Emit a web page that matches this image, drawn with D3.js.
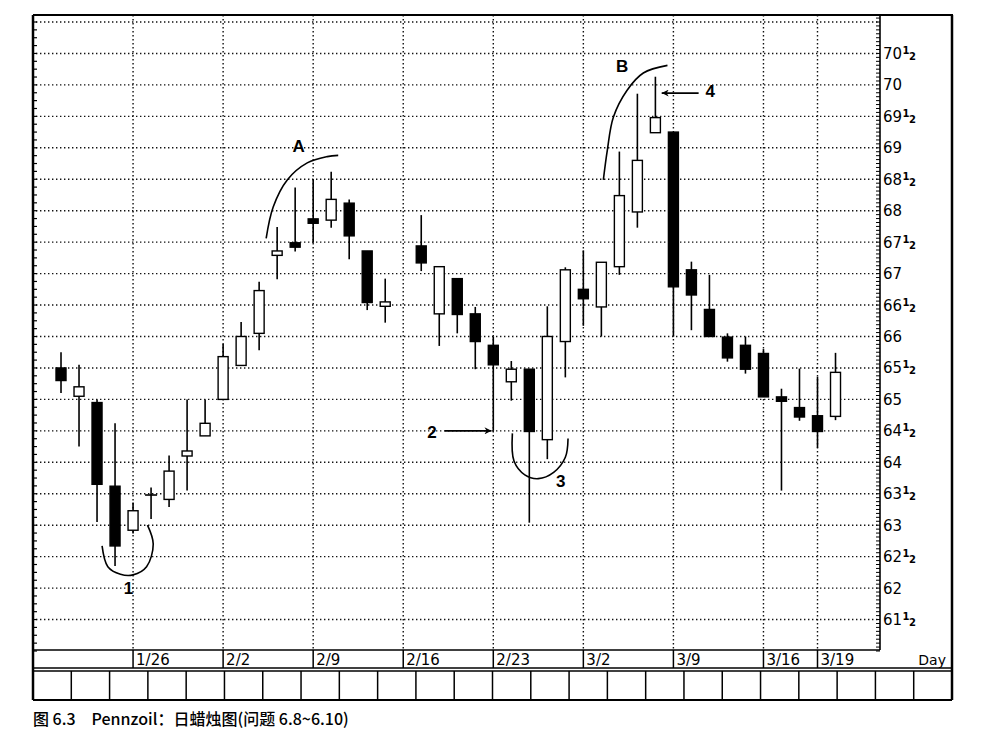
<!DOCTYPE html>
<html><head><meta charset="utf-8">
<script src="https://cdn.jsdelivr.net/npm/d3@7"></script>
<style>body{margin:0;background:#fff}svg{display:block}</style>
</head><body><svg id="c" width="995" height="747"></svg>
<script>
// ---------- data ----------
const dates = ["1998-01-20","1998-01-21","1998-01-22","1998-01-23",
  "1998-01-26","1998-01-27","1998-01-28","1998-01-29","1998-01-30",
  "1998-02-02","1998-02-03","1998-02-04","1998-02-05","1998-02-06",
  "1998-02-09","1998-02-10","1998-02-11","1998-02-12","1998-02-13",
  "1998-02-17","1998-02-18","1998-02-19","1998-02-20",
  "1998-02-23","1998-02-24","1998-02-25","1998-02-26","1998-02-27",
  "1998-03-02","1998-03-03","1998-03-04","1998-03-05","1998-03-06",
  "1998-03-09","1998-03-10","1998-03-11","1998-03-12","1998-03-13",
  "1998-03-16","1998-03-17","1998-03-18","1998-03-19","1998-03-20"];
const open  = [65.5,65.05,64.95,63.62, 62.92,63.48,63.41,64.1,64.42, 65.0,65.54,66.05,67.29,67.49,
  67.87,67.85,68.12,67.36,66.48, 67.44,66.36,66.92,66.36, 65.86,65.28,65.48,64.36,65.92,
  66.75,66.47,67.11,67.98,69.24, 69.25,67.06,66.43,65.99,65.86, 65.73,65.04,64.87,64.74,64.73];
const high  = [65.75,65.55,65.0,64.62, 63.36,63.6,64.11,65.0,65.0, 65.88,66.23,66.87,67.74,68.37,
  68.5,68.62,68.18,67.36,66.92, 67.93,67.11,66.92,66.47, 66.0,65.61,65.48,66.48,67.1,
  67.37,67.18,68.94,69.86,70.13, 69.25,67.19,66.98,66.05,66.0, 65.8,65.17,65.49,65.36,65.74];
const low   = [65.1,64.25,63.05,62.35, 62.87,63.1,63.29,63.55,64.42, 65.0,65.54,65.78,66.91,67.35,
  67.49,67.73,67.23,66.42,66.22, 67.04,65.85,66.05,65.48, 64.5,64.98,63.04,64.05,65.35,
  66.17,66.0,66.98,67.73,69.24, 66.0,66.1,66.0,65.6,65.41, 65.04,63.55,64.66,64.23,64.67];
const close = [65.3,65.2,63.65,62.67, 63.23,63.48,63.86,64.18,64.62, 65.68,66.0,66.73,67.36,67.42,
  67.8,68.18,67.6,66.54,66.55, 67.17,67.11,66.35,65.92, 65.55,65.48,64.49,66.0,67.06,
  66.6,67.18,68.24,68.8,69.48, 66.79,66.66,66.0,65.66,65.48, 65.04,64.97,64.72,64.49,65.43];
const weekTickDates  = ["1998-01-26","1998-02-02","1998-02-09","1998-02-16","1998-02-23","1998-03-02","1998-03-09","1998-03-16","1998-03-19"];
const weekTickLabels = ["1/26","2/2","2/9","2/16","2/23","3/2","3/9","3/16","3/19"];
const priceTicks = [61.5,62,62.5,63,63.5,64,64.5,65,65.5,66,66.5,67,67.5,68,68.5,69,69.5,70,70.5];
const gridPrices = [61.5,62,62.5,63,63.5,64,64.5,65,65.5,66,66.5,67,67.5,68,68.5,69,69.5,70,70.5,71];
const dayLabel = "Day";
const caption = ["图 6.3", "Pennzoil：日蜡烛图(问题 6.8~6.10)"];
// annotations, in chart units: [weekday index, price]
const arc1 = [[3.28,62.67],[3.6,62.34],[4.3,62.22],[5.0,62.21],[5.75,62.34],[6.12,62.7],[5.8,63.0]];
const arcA = [[12.39,67.56],[12.78,68.06],[13.56,68.49],[14.67,68.76],[15.78,68.86],[16.39,68.88]];
const arc3 = [[26.06,64.46],[26.15,64.02],[26.75,63.8],[27.5,63.74],[28.35,63.84],[29.0,64.08],[29.15,64.38]];
const arcB = [[31.11,68.49],[31.33,68.96],[31.67,69.49],[32.44,69.92],[33.33,70.19],[34.67,70.31]];
const arrows = [ {from:[22.3,64.5], to:[24.9,64.5]}, {from:[36.4,69.87], to:[34.35,69.87]} ];
const labels = [ {t:"1",p:[4.75,62.0]}, {t:"A",p:[14.2,69.02]}, {t:"2",p:[21.6,64.48]},
  {t:"3",p:[28.75,63.7]}, {t:"B",p:[32.15,70.3]}, {t:"4",p:[37.05,69.9]} ];

// ---------- helpers ----------
const base = Date.UTC(1998,0,19);
function wd(s){ const [Y,M,D]=s.split("-").map(Number); const d=Math.round((Date.UTC(Y,M-1,D)-base)/864e5); return Math.floor(d/7)*5 + d%7; }

const svg = d3.select("#c");
const L=33, R=952, T=15, PR=880, PB=650;
const x = d3.scaleLinear().domain([0,43]).range([43,817.5]);
const y = d3.scaleLinear().domain([61,71]).range([651,22]);

// grid
const g = svg.append("g");
g.selectAll("line.h").data(gridPrices).join("line")
  .attr("x1",L+3).attr("x2",PR).attr("y1",d=>y(d)).attr("y2",d=>y(d))
  .attr("stroke","#111").attr("stroke-width",1.4).attr("stroke-dasharray","1.4,2.6");
g.selectAll("line.v").data(weekTickDates).join("line")
  .attr("x1",d=>x(wd(d))).attr("x2",d=>x(wd(d))).attr("y1",T).attr("y2",PB)
  .attr("stroke","#111").attr("stroke-width",1.4).attr("stroke-dasharray","1.4,2.6");

// frame
const fr = svg.append("g").attr("stroke","#000").attr("fill","none");
fr.append("line").attr("x1",L).attr("x2",R+1).attr("y1",T).attr("y2",T).attr("stroke-width",2);
fr.append("line").attr("x1",L).attr("x2",L).attr("y1",T).attr("y2",700).attr("stroke-width",2.5);
fr.append("line").attr("x1",R).attr("x2",R).attr("y1",T).attr("y2",700).attr("stroke-width",2.5);
fr.append("line").attr("x1",PR).attr("x2",PR).attr("y1",T).attr("y2",PB).attr("stroke-width",1.6);
fr.append("line").attr("x1",L).attr("x2",PR).attr("y1",PB).attr("y2",PB).attr("stroke-width",1.6);
fr.append("line").attr("x1",L).attr("x2",R).attr("y1",668).attr("y2",668).attr("stroke-width",1.5);
fr.append("line").attr("x1",L).attr("x2",R).attr("y1",671).attr("y2",671).attr("stroke-width",1.5);
fr.append("line").attr("x1",L).attr("x2",R).attr("y1",700).attr("y2",700).attr("stroke-width",2);
// bottom boxes
const cellW = (R-L)/24;
fr.selectAll("line.cell").data(d3.range(1,24)).join("line")
  .attr("x1",d=>L+d*cellW).attr("x2",d=>L+d*cellW).attr("y1",671).attr("y2",700).attr("stroke-width",1.5);

// ruler ticks
const fine = d3.range(61, 71.12, 1/16);
fr.selectAll("line.rt").data(fine).join("line")
  .attr("x1",PR-4).attr("x2",PR).attr("y1",d=>y(d)).attr("y2",d=>y(d)).attr("stroke-width",1);
const fine8 = d3.range(61, 71.12, 1/8);
fr.selectAll("line.lt").data(fine8).join("line")
  .attr("x1",L).attr("x2",L+4).attr("y1",d=>y(d)).attr("y2",d=>y(d)).attr("stroke-width",1.2);

// date row
const dr = svg.append("g");
dr.selectAll("line").data(weekTickDates).join("line")
  .attr("x1",d=>x(wd(d))).attr("x2",d=>x(wd(d))).attr("y1",PB).attr("y2",668)
  .attr("stroke","#000").attr("stroke-width",1.5);
dr.selectAll("text").data(weekTickDates).join("text")
  .attr("x",d=>x(wd(d))+3).attr("y",665)
  .attr("font-family","DejaVu Sans, Verdana, sans-serif").attr("font-size",15)
  .text((d,i)=>weekTickLabels[i]);
svg.append("text").attr("x",946).attr("y",665).attr("text-anchor","end")
  .attr("font-family","DejaVu Sans, Verdana, sans-serif").attr("font-size",14).text(dayLabel);

// price labels
const pl = svg.append("g").attr("font-family","DejaVu Sans, Verdana, sans-serif");
priceTicks.forEach(p=>{
  const t = pl.append("text").attr("x",PR+3).attr("y",y(p)+5.5).attr("font-size",15);
  t.append("tspan").text(Math.floor(p));
  if (p % 1) {
    t.append("tspan").attr("font-size",10).attr("font-weight","bold").attr("dy",-5).attr("dx",0.5).text("1");
    t.append("tspan").attr("font-size",10).attr("font-weight","bold").attr("dy",6).attr("dx",-0.5).text("2");
  }
});

// candles
const idx = dates.map(wd);
const cg = svg.append("g");
dates.forEach((d,i)=>{
  const cx = x(idx[i]);
  cg.append("line").attr("x1",cx).attr("x2",cx).attr("y1",y(high[i])).attr("y2",y(low[i]))
    .attr("stroke","#000").attr("stroke-width",1.6);
  const o=open[i], c=close[i];
  if (o===c) {
    cg.append("line").attr("x1",cx-6).attr("x2",cx+6).attr("y1",y(o)).attr("y2",y(o))
      .attr("stroke","#000").attr("stroke-width",1.6);
  } else {
    const top=y(Math.max(o,c)), bot=y(Math.min(o,c));
    cg.append("rect").attr("x",cx-5).attr("width",10).attr("y",top).attr("height",Math.max(bot-top,2))
      .attr("fill", c<o ? "#000" : "#fff").attr("stroke","#000").attr("stroke-width",1.4);
  }
});

// annotations
const line = d3.line().x(d=>x(d[0])).y(d=>y(d[1])).curve(d3.curveCatmullRom.alpha(0.5));
[arc1,arcA,arc3,arcB].forEach(a=>svg.append("path").attr("d",line(a)).attr("fill","none")
  .attr("stroke","#000").attr("stroke-width",1.6));
svg.append("defs").append("marker").attr("id","ah").attr("viewBox","0 0 10 10").attr("refX",10).attr("refY",5)
  .attr("markerWidth",9).attr("markerHeight",7).attr("markerUnits","userSpaceOnUse").attr("orient","auto")
  .append("path").attr("d","M0,0 L10,5 L0,10 L3,5 z").attr("fill","#000");
arrows.forEach(a=>svg.append("line").attr("x1",x(a.from[0])).attr("y1",y(a.from[1]))
  .attr("x2",x(a.to[0])).attr("y2",y(a.to[1])).attr("stroke","#000").attr("stroke-width",1.6)
  .attr("marker-end","url(#ah)"));
labels.forEach(l=>svg.append("text").attr("x",x(l.p[0])).attr("y",y(l.p[1])).attr("text-anchor","middle")
  .attr("dominant-baseline","central").attr("font-family","Liberation Sans, Arial, sans-serif")
  .attr("font-weight","bold").attr("font-size",17).text(l.t));

// caption
const cap = svg.append("text").attr("x",33).attr("y",725)
  .attr("font-family","Noto Sans CJK SC, sans-serif").attr("font-size",16).attr("font-weight",500);
cap.append("tspan").text(caption[0]);
cap.append("tspan").attr("dx",16).text(caption[1]);
</script></body></html>
